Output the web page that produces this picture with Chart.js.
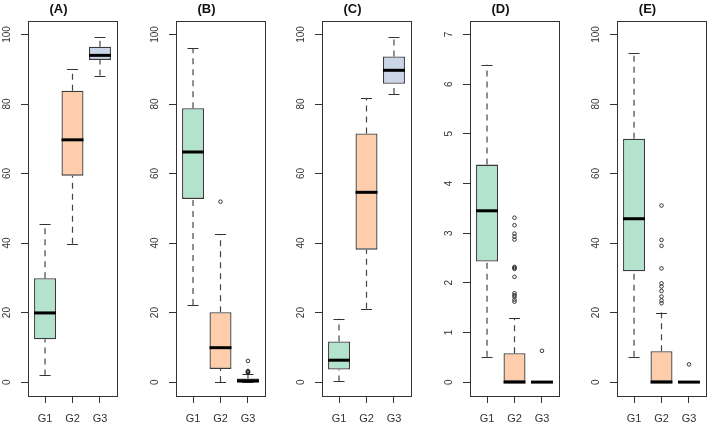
<!DOCTYPE html>
<html><head><meta charset="utf-8">
<script src="https://cdn.jsdelivr.net/npm/chart.js@4.4.1/dist/chart.umd.min.js"></script>
<style>
html,body{margin:0;padding:0;background:#fff;overflow:hidden;width:708px;height:426px;position:relative}
canvas{position:absolute;top:0}
</style></head><body>
<canvas id="c0"></canvas><canvas id="c1"></canvas><canvas id="c2"></canvas><canvas id="c3"></canvas><canvas id="c4"></canvas>
<script>
// ---------- data ----------
const categories = ['G1', 'G2', 'G3'];
const panelTitles = ['(A)', '(B)', '(C)', '(D)', '(E)'];
const percentTicks = [0, 20, 40, 60, 80, 100];
const countTicks = [0, 1, 2, 3, 4, 5, 6, 7];
// each row: [lower whisker, Q1, median, Q3, upper whisker] for G1, G2, G3
const boxA = [[1.9, 12.3, 19.9, 29.9, 45.6], [39.8, 59.4, 69.7, 83.8, 90.0], [88.2, 92.7, 94.0, 96.5, 99.2]];
const boxB = [[22.2, 52.7, 66.2, 78.8, 96.0], [0, 3.8, 9.9, 20.1, 42.5], [0, 0, 0.3, 1.0, 2.2]];
const boxC = [[0.2, 3.6, 6.3, 11.7, 18.2], [21.1, 38.1, 54.6, 71.5, 81.7], [82.9, 85.8, 89.7, 93.7, 99.2]];
const boxD = [[0.51, 2.43, 3.45, 4.38, 6.39], [0, 0, 0, 0.58, 1.29], [0, 0, 0, 0, 0]];
const boxE = [[7.3, 31.9, 47.0, 70.0, 94.6], [0, 0, 0, 8.9, 20.0], [0, 0, 0, 0, 0]];
// outliers per group
const outA = [[], [], []];
const outB = [[], [51.9], [2.7, 2.9, 3.0, 3.2, 6.1]];
const outC = [[], [], []];
const outD = [[], [1.62, 1.66, 1.72, 1.75, 1.79, 2.12, 2.28, 2.30, 2.32, 2.87, 2.93, 2.99, 3.16, 3.31], [0.63]];
const outE = [[], [22.7, 23.5, 24.6, 26.2, 27.5, 28.4, 32.7, 39.2, 40.9, 50.8], [5.1]];
const groupColors = ['#b3e2cd', '#fdcdac', '#cbd5e8'];

// ---------- layout ----------
const FONT = "'Liberation Sans', Arial, Helvetica, sans-serif";
const canvasLefts = [0, 148, 294, 442, 589];
const AXIS_W = 28, AREA_W = 89, H = 426;
const panels = [
  {box: boxA, out: outA, ticks: percentTicks},
  {box: boxB, out: outB, ticks: percentTicks},
  {box: boxC, out: outC, ticks: percentTicks},
  {box: boxD, out: outD, ticks: countTicks},
  {box: boxE, out: outE, ticks: percentTicks}
];

const measureCtx = document.createElement('canvas').getContext('2d');
measureCtx.font = '10px ' + FONT;

function makeChart(k) {
  const p = panels[k];
  const cv = document.getElementById('c' + k);
  const left = canvasLefts[k];
  const w = Math.min(147, 708 - left);
  cv.width = w; cv.height = H;
  cv.style.left = left + 'px';
  cv.style.width = w + 'px'; cv.style.height = H + 'px';
  const tmax = p.ticks[p.ticks.length - 1];
  const ext = tmax * 0.04;
  const widest = Math.max(...p.ticks.map(t => measureCtx.measureText(String(t)).width));
  const yPad = 14 - widest / 2;

  const boxPlugin = {
    id: 'boxParts' + k,
    beforeDatasetsDraw(chart) {
      const ctx = chart.ctx, xs = chart.scales.x, ys = chart.scales.y;
      const meta = chart.getDatasetMeta(0);
      ctx.save();
      p.box.forEach((s, i) => {
        const cx = xs.getPixelForValue(i + 1);
        const bw = meta.data[i].width;
        ctx.strokeStyle = '#444';
        ctx.lineWidth = 1.2;
        ctx.setLineDash([6, 5]);
        ctx.beginPath();
        if (s[4] > s[3]) { ctx.moveTo(cx, ys.getPixelForValue(s[3])); ctx.lineTo(cx, ys.getPixelForValue(s[4])); }
        if (s[1] > s[0]) { ctx.moveTo(cx, ys.getPixelForValue(s[0])); ctx.lineTo(cx, ys.getPixelForValue(s[1])); }
        ctx.stroke();
        ctx.setLineDash([]);
        ctx.strokeStyle = '#333';
        ctx.beginPath();
        [s[0], s[4]].forEach(v => {
          const y = Math.round(ys.getPixelForValue(v)) + 0.5;
          ctx.moveTo(cx - bw / 4, y); ctx.lineTo(cx + bw / 4, y);
        });
        ctx.stroke();
      });
      ctx.restore();
    },
    afterDatasetsDraw(chart) {
      const ctx = chart.ctx, xs = chart.scales.x, ys = chart.scales.y;
      const meta = chart.getDatasetMeta(0);
      ctx.save();
      ctx.strokeStyle = '#000';
      ctx.lineWidth = 3;
      p.box.forEach((s, i) => {
        const cx = xs.getPixelForValue(i + 1);
        const bw = meta.data[i].width;
        const y = ys.getPixelForValue(s[2]);
        ctx.beginPath(); ctx.moveTo(cx - bw / 2, y); ctx.lineTo(cx + bw / 2, y); ctx.stroke();
      });
      // outliers on top
      ctx.lineWidth = 0.9;
      ctx.strokeStyle = '#222';
      p.out.forEach((arr, i) => {
        const cx = xs.getPixelForValue(i + 1);
        arr.forEach(v => {
          ctx.beginPath(); ctx.arc(cx, ys.getPixelForValue(v), 1.8, 0, Math.PI * 2); ctx.stroke();
        });
      });
      ctx.restore();
    },
    afterDraw(chart) {
      const a = chart.chartArea, ctx = chart.ctx;
      ctx.save();
      ctx.strokeStyle = '#333'; ctx.lineWidth = 1;
      ctx.strokeRect(Math.round(a.left) + 0.5, Math.round(a.top) + 0.5, Math.round(a.right - a.left), Math.round(a.bottom - a.top));
      ctx.restore();
    }
  };

  return new Chart(cv, {
    type: 'bar',
    data: {
      datasets: [{
        data: categories.map((c, i) => ({x: i + 1, y: [p.box[i][1], p.box[i][3]]})),
        backgroundColor: groupColors,
        borderColor: '#3a3a3a',
        borderWidth: 1.3,
        borderSkipped: false,
        barPercentage: 0.8,
        categoryPercentage: 1
      }]
    },
    options: {
      responsive: false,
      animation: false,
      devicePixelRatio: 1,
      events: [],
      layout: {padding: {top: 0, bottom: 0, left: 0, right: w - AXIS_W - AREA_W}},
      plugins: {
        legend: {display: false},
        tooltip: {enabled: false},
        title: {display: true, text: panelTitles[k], color: '#111',
          font: {family: FONT, size: 13, weight: 'bold'}, padding: {top: 2, bottom: 3}}
      },
      scales: {
        x: {
          type: 'linear', min: 0.38, max: 3.62, bounds: 'data', offset: false,
          afterBuildTicks: s => { s.ticks = categories.map((c, i) => ({value: i + 1})); },
          afterFit: s => { s.height = 30; },
          ticks: {callback: v => categories[v - 1], color: '#333', font: {family: FONT, size: 11},
            padding: 9, maxRotation: 0, minRotation: 0, autoSkip: false},
          grid: {display: true, offset: false, drawOnChartArea: false, drawTicks: true, tickLength: 7, color: '#333'},
          border: {display: false}
        },
        y: {
          min: -ext, max: tmax + ext, bounds: 'data',
          afterBuildTicks: s => { s.ticks = p.ticks.map(v => ({value: v})); },
          afterFit: s => { s.width = AXIS_W; },
          ticks: {color: '#333', font: {family: FONT, size: 10}, minRotation: 90, maxRotation: 90,
            crossAlign: 'center', padding: yPad, autoSkip: false},
          grid: {display: true, drawOnChartArea: false, drawTicks: true, tickLength: 7, color: '#333'},
          border: {display: false}
        }
      }
    },
    plugins: [boxPlugin]
  });
}
panels.forEach((p, k) => makeChart(k));
</script>
</body></html>
